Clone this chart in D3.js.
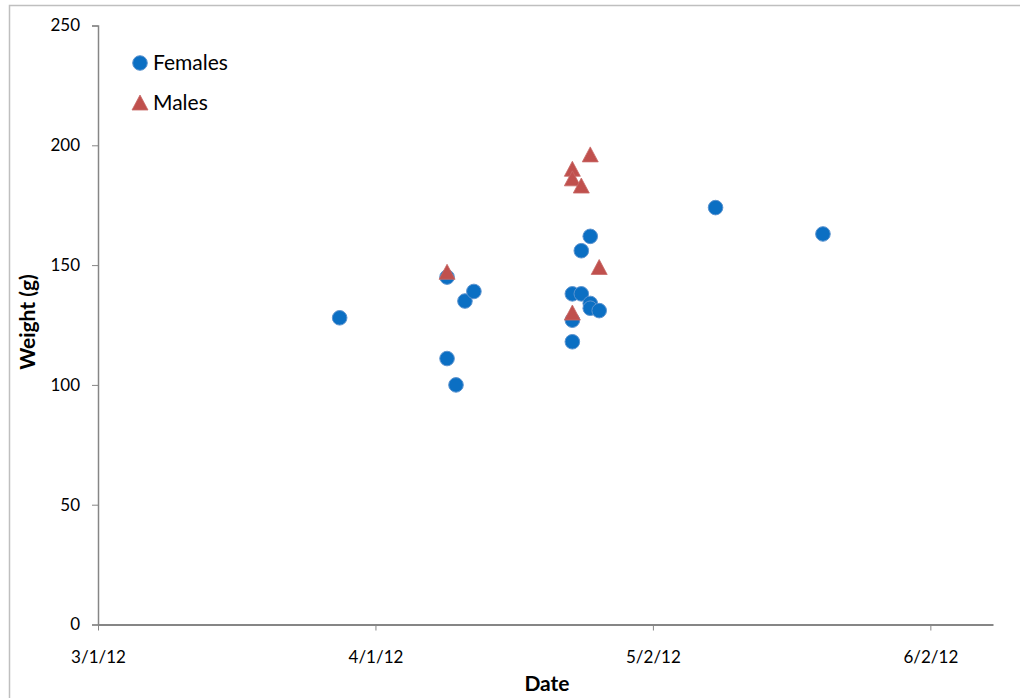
<!DOCTYPE html>
<html>
<head>
<style>
  body { margin: 0; background: #fff; }
  text { font-family: Lato, "Open Sans", sans-serif; }
</style>
</head>
<body>

<script src="https://d3js.org/d3.v7.min.js"></script>
<script>

const width = 1020;
const height = 698;

// dates and weights
const femaleDates = ['2012-03-28', '2012-04-09', '2012-04-09', '2012-04-10', '2012-04-11', '2012-04-12',
                     '2012-04-23', '2012-04-23', '2012-04-23', '2012-04-24', '2012-04-24', '2012-04-25',
                     '2012-04-25', '2012-04-25', '2012-04-26', '2012-05-09', '2012-05-21'];
const femaleWeights = [128, 145, 111, 100, 135, 139,
                       138, 127, 118, 138, 156, 162,
                       134, 132, 131, 174, 163];

const maleDates = ['2012-04-09', '2012-04-23', '2012-04-23', '2012-04-23', '2012-04-24', '2012-04-25', '2012-04-26'];
const maleWeights = [147, 190, 186, 130, 183, 196, 149];

const xTicks = ['2012-03-01', '2012-04-01', '2012-05-02', '2012-06-02'];
const yTicks = [0, 50, 100, 150, 200, 250];

const parse = d3.timeParse('%Y-%m-%d');
const fmt = d => `${d.getMonth() + 1}/${d.getDate()}/${String(d.getFullYear()).slice(2)}`;

const females = femaleDates.map((d, i) => ({ date: parse(d), w: femaleWeights[i] }));
const males = maleDates.map((d, i) => ({ date: parse(d), w: maleWeights[i] }));

const svg = d3.select('body')
              .append('svg')
              .attr('width', width)
              .attr('height', height);

// outer chart frame
svg.append('rect')
  .attr('x', 9.5).attr('y', 5.5)
  .attr('width', 1030).attr('height', 720)
  .attr('fill', '#fff')
  .attr('stroke', '#bfbfbf')
  .attr('stroke-width', 1.5);

const plotLeft = 98, plotRight = 993, plotTop = 25.5, plotBottom = 624.5;

const x = d3.scaleTime()
  .domain([parse('2012-03-01'), parse('2012-06-09')])
  .range([plotLeft, plotRight]);
const y = d3.scaleLinear().domain([0, 250]).range([plotBottom, plotTop]);

const axisColor = '#868686';

// y axis
const yAxis = svg.append('g')
  .attr('transform', `translate(${plotLeft},0)`)
  .call(d3.axisLeft(y).tickValues(yTicks).tickSize(6).tickPadding(12));
yAxis.select('.domain').attr('stroke', axisColor).attr('stroke-width', 1.5);
yAxis.selectAll('.tick line').attr('stroke', axisColor).attr('stroke-width', 1);
yAxis.selectAll('.tick text').attr('font-size', 17).attr('fill', '#000');

// x axis
const xAxis = svg.append('g')
  .attr('transform', `translate(0,${plotBottom})`)
  .call(d3.axisBottom(x).tickValues(xTicks.map(parse)).tickFormat(fmt).tickSize(6).tickSizeOuter(0).tickPadding(20));
xAxis.select('.domain').attr('stroke', axisColor).attr('stroke-width', 2);
xAxis.selectAll('.tick line').attr('stroke', axisColor).attr('stroke-width', 1);
xAxis.selectAll('.tick text').attr('font-size', 17).attr('fill', '#000');

// axis titles
svg.append('text')
  .attr('x', 547).attr('y', 691)
  .attr('text-anchor', 'middle')
  .attr('font-size', 21).attr('font-weight', 'bold')
  .text('Date');

svg.append('text')
  .attr('transform', 'translate(35,322) rotate(-90)')
  .attr('text-anchor', 'middle')
  .attr('font-size', 21).attr('font-weight', 'bold')
  .text('Weight (g)');

// triangle centered on its bounding box, like the spreadsheet marker
const tri = (cx, cy) => `M${cx},${cy - 8}L${cx + 8},${cy + 7}L${cx - 8},${cy + 7}Z`;

const blue = '#0b6fc3';
const red = '#c0504d';

svg.append('g').selectAll('circle')
  .data(females)
  .enter()
  .append('circle')
    .attr('cx', d => x(d.date))
    .attr('cy', d => y(d.w))
    .attr('r', 7.3)
    .attr('fill', blue)
    .attr('stroke', '#5b93cf')
    .attr('stroke-width', 1);

svg.append('g').selectAll('path')
  .data(males)
  .enter()
  .append('path')
    .attr('d', d => tri(x(d.date), y(d.w)))
    .attr('fill', red)
    .attr('stroke', '#c86a67')
    .attr('stroke-width', 0.8);

// legend
const legend = svg.append('g');
legend.append('circle')
  .attr('cx', 140).attr('cy', 63).attr('r', 7.3)
  .attr('fill', blue).attr('stroke', '#5b93cf');
legend.append('text')
  .attr('x', 153).attr('y', 70)
  .attr('font-size', 21)
  .text('Females');
legend.append('path')
  .attr('d', tri(140, 103))
  .attr('fill', red).attr('stroke', '#c86a67').attr('stroke-width', 0.8);
legend.append('text')
  .attr('x', 153).attr('y', 110)
  .attr('font-size', 21)
  .text('Males');

</script>
</body>
</html>
